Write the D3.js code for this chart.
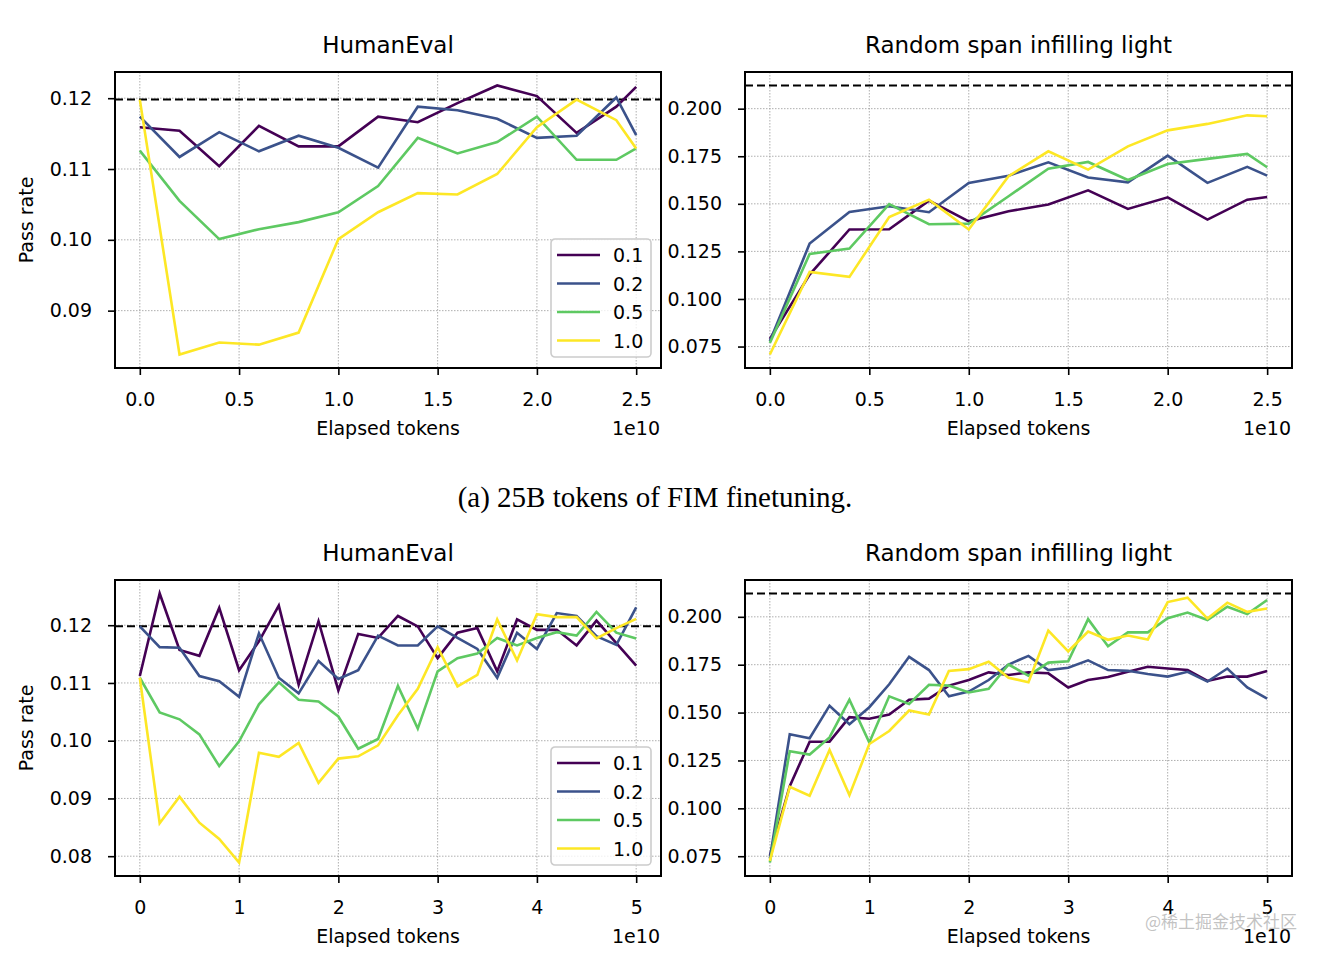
<!DOCTYPE html>
<html>
<head>
<meta charset="utf-8">
<script src="https://cdn.jsdelivr.net/npm/d3@7"></script>
<style>
  body { margin: 0; background: #fff; }
  svg { display: block; }
  text { font-family: "DejaVu Sans", sans-serif; fill: #000; }
</style>
</head>
<body>
<div id="chart"></div>
<script>
// elapsed tokens (units of 1e10)
var tokensA = [0, 0.2, 0.4, 0.6, 0.8, 1.0, 1.2, 1.4, 1.6, 1.8, 2.0, 2.2, 2.4, 2.5];
var tokensB = [0, 0.2, 0.4, 0.6, 0.8, 1.0, 1.2, 1.4, 1.6, 1.8, 2.0, 2.2, 2.4, 2.6, 2.8,
               3.0, 3.2, 3.4, 3.6, 3.8, 4.0, 4.2, 4.4, 4.6, 4.8, 5.0];

var rates = ["0.1", "0.2", "0.5", "1.0"];
var colors = ["#440154", "#3b528b", "#5ec962", "#fde725"];

// (a) 25B tokens - HumanEval
var heA_01 = [0.1159, 0.1154, 0.1104, 0.1161, 0.1132, 0.1132, 0.1174, 0.1166, 0.1193, 0.1218, 0.1203, 0.1151, 0.1188, 0.1216];
var heA_02 = [0.1174, 0.1117, 0.1152, 0.1125, 0.1147, 0.1130, 0.1102, 0.1188, 0.1183, 0.1171, 0.1144, 0.1147, 0.1201, 0.1148];
var heA_05 = [0.1126, 0.1055, 0.1001, 0.1015, 0.1025, 0.1039, 0.1076, 0.1144, 0.1122, 0.1138, 0.1174, 0.1113, 0.1113, 0.1129];
var heA_10 = [0.1198, 0.0838, 0.0855, 0.0852, 0.0869, 0.1001, 0.1039, 0.1066, 0.1064, 0.1093, 0.1159, 0.1198, 0.1169, 0.1129];

// (a) 25B tokens - random span infilling light
var rsA_01 = [0.0790, 0.1128, 0.1365, 0.1366, 0.1517, 0.1408, 0.1461, 0.1496, 0.1571, 0.1473, 0.1534, 0.1417, 0.1522, 0.1536];
var rsA_02 = [0.0778, 0.1291, 0.1457, 0.1487, 0.1456, 0.1610, 0.1648, 0.1718, 0.1638, 0.1613, 0.1753, 0.1610, 0.1694, 0.1648];
var rsA_05 = [0.0769, 0.1237, 0.1265, 0.1498, 0.1393, 0.1396, 0.1540, 0.1685, 0.1720, 0.1625, 0.1709, 0.1736, 0.1762, 0.1692];
var rsA_10 = [0.0708, 0.1142, 0.1116, 0.1431, 0.1522, 0.1365, 0.1645, 0.1776, 0.1680, 0.1802, 0.1886, 0.1920, 0.1965, 0.1960];

// 50B tokens - HumanEval
var heB_01 = [0.1112, 0.1255, 0.1157, 0.1147, 0.1230, 0.1122, 0.1172, 0.1234, 0.1097, 0.1207, 0.1087, 0.1185, 0.1178,
              0.1216, 0.1198, 0.1143, 0.1187, 0.1195, 0.1120, 0.1210, 0.1192, 0.1192, 0.1165, 0.1208, 0.1169, 0.1130];
var heB_02 = [0.1198, 0.1162, 0.1161, 0.1112, 0.1103, 0.1076, 0.1186, 0.1109, 0.1082, 0.1138, 0.1107, 0.1122, 0.1182,
              0.1165, 0.1165, 0.1198, 0.1178, 0.1159, 0.1109, 0.1187, 0.1159, 0.1221, 0.1216, 0.1181, 0.1166, 0.1231];
var heB_05 = [0.1109, 0.1049, 0.1037, 0.1011, 0.0956, 0.0999, 0.1063, 0.1101, 0.1071, 0.1068, 0.1042, 0.0986, 0.1003,
              0.1095, 0.1021, 0.1120, 0.1143, 0.1151, 0.1178, 0.1165, 0.1178, 0.1188, 0.1182, 0.1223, 0.1187, 0.1177];
var heB_10 = [0.1109, 0.0857, 0.0903, 0.0858, 0.0830, 0.0789, 0.0979, 0.0972, 0.0996, 0.0927, 0.0969, 0.0973, 0.0992,
              0.1044, 0.1090, 0.1162, 0.1094, 0.1114, 0.1210, 0.1139, 0.1219, 0.1214, 0.1214, 0.1177, 0.1195, 0.1211];

// 50B tokens - random span infilling light
var rsB_01 = [0.0752, 0.1116, 0.1348, 0.1348, 0.1476, 0.1468, 0.1490, 0.1567, 0.1573, 0.1641, 0.1670, 0.1710, 0.1696,
              0.1710, 0.1705, 0.1631, 0.1670, 0.1686, 0.1713, 0.1739, 0.1730, 0.1722, 0.1665, 0.1688, 0.1688, 0.1717];
var rsB_02 = [0.0738, 0.1387, 0.1366, 0.1536, 0.1439, 0.1528, 0.1648, 0.1791, 0.1722, 0.1585, 0.1610, 0.1670, 0.1751,
              0.1796, 0.1722, 0.1734, 0.1773, 0.1722, 0.1718, 0.1701, 0.1688, 0.1713, 0.1662, 0.1730, 0.1631, 0.1573];
var rsB_05 = [0.0717, 0.1298, 0.1281, 0.1370, 0.1567, 0.1344, 0.1585, 0.1545, 0.1645, 0.1641, 0.1605, 0.1624, 0.1751,
              0.1693, 0.1761, 0.1768, 0.1988, 0.1846, 0.1919, 0.1919, 0.1993, 0.2022, 0.1983, 0.2053, 0.2014, 0.2088];
var rsB_10 = [0.0726, 0.1112, 0.1066, 0.1305, 0.1069, 0.1336, 0.1404, 0.1511, 0.1490, 0.1717, 0.1727, 0.1765, 0.1682,
              0.1658, 0.1928, 0.1820, 0.1923, 0.1880, 0.1902, 0.1882, 0.2077, 0.2100, 0.1991, 0.2074, 0.2026, 0.2043];

// baseline (dashed line)
var baseHumanEval = 0.1198;
var baseRandomSpan = 0.2122;

var ticksXA = [0, 0.5, 1.0, 1.5, 2.0, 2.5];
var ticksXB = [0, 1, 2, 3, 4, 5];
var ticksHEA = [0.09, 0.10, 0.11, 0.12];
var ticksHEB = [0.08, 0.09, 0.10, 0.11, 0.12];
var ticksRS = [0.075, 0.100, 0.125, 0.150, 0.175, 0.200];

var W = 1330, H = 958;
var svg = d3.select("#chart").append("svg")
	.attr("width", W)
	.attr("height", H);
svg.append("rect").attr("width", W).attr("height", H).attr("fill", "#fff");

function drawPanel(p) {
	var g = svg.append("g").attr("transform", "translate(" + p.left + "," + p.top + ")");
	var w = p.width, h = p.height;

	var xs = p.xs;
	var xr = xs[xs.length - 1] - xs[0];
	var x = d3.scaleLinear()
		.domain([xs[0] - xr * 0.05, xs[xs.length - 1] + xr * 0.05])
		.range([0, w]);

	// y limits like matplotlib autoscale: data + hline with 5% margin
	var all = [p.hline];
	p.series.forEach(function(s) { all = all.concat(s); });
	var lo = d3.min(all), hi = d3.max(all), yr = hi - lo;
	var y = d3.scaleLinear()
		.domain([lo - yr * 0.05, hi + yr * 0.05])
		.range([h, 0]);

	// grid
	g.selectAll(".gx").data(p.xTicks).enter().append("line")
		.attr("x1", function(d) { return x(d); })
		.attr("x2", function(d) { return x(d); })
		.attr("y1", 0).attr("y2", h)
		.style("stroke", "#9a9a9a").style("stroke-width", 0.8)
		.style("stroke-dasharray", "1.5,1.5");
	g.selectAll(".gy").data(p.yTicks).enter().append("line")
		.attr("y1", function(d) { return y(d); })
		.attr("y2", function(d) { return y(d); })
		.attr("x1", 0).attr("x2", w)
		.style("stroke", "#9a9a9a").style("stroke-width", 0.8)
		.style("stroke-dasharray", "1.5,1.5");

	// baseline
	g.append("line")
		.attr("x1", 0).attr("x2", w)
		.attr("y1", y(p.hline)).attr("y2", y(p.hline))
		.style("stroke", "#000").style("stroke-width", 2)
		.style("stroke-dasharray", "8,4");

	// series lines
	var line = d3.line()
		.x(function(d, i) { return x(xs[i]); })
		.y(function(d) { return y(d); });
	p.series.forEach(function(s, i) {
		g.append("path")
			.datum(s)
			.attr("d", line)
			.style("fill", "none")
			.style("stroke", colors[i])
			.style("stroke-width", 2.6)
			.style("stroke-linejoin", "miter");
	});

	// axes
	var xAxis = d3.axisBottom(x).tickValues(p.xTicks).tickFormat(d3.format(p.xFmt))
		.tickSizeInner(7).tickSizeOuter(0).tickPadding(16);
	var yAxis = d3.axisLeft(y).tickValues(p.yTicks).tickFormat(d3.format(p.yFmt))
		.tickSizeInner(7).tickSizeOuter(0).tickPadding(16);
	var gx = g.append("g").attr("transform", "translate(0," + h + ")").call(xAxis);
	var gy = g.append("g").call(yAxis);
	[gx, gy].forEach(function(a) {
		a.select(".domain").remove();
		a.selectAll(".tick line").style("stroke", "#000").style("stroke-width", 1.6);
		a.selectAll(".tick text")
			.style("font-family", "DejaVu Sans")
			.style("font-size", "19px")
			.style("fill", "#000");
	});
	gx.selectAll(".tick text").attr("dy", "0.78em");

	// frame
	g.append("rect")
		.attr("width", w).attr("height", h)
		.style("fill", "none").style("stroke", "#000").style("stroke-width", 2);

	// title & labels
	g.append("text")
		.attr("x", w / 2).attr("y", -19)
		.attr("text-anchor", "middle")
		.style("font-size", "23px")
		.text(p.title);
	g.append("text")
		.attr("x", w / 2).attr("y", h + 67)
		.attr("text-anchor", "middle")
		.style("font-size", "19px")
		.text("Elapsed tokens");
	g.append("text")
		.attr("x", w - 1).attr("y", h + 67)
		.attr("text-anchor", "end")
		.style("font-size", "19px")
		.text("1e10");
	if (p.ylabel) {
		g.append("text")
			.attr("transform", "translate(" + (-82) + "," + (h / 2) + ") rotate(-90)")
			.attr("text-anchor", "middle")
			.style("font-size", "19px")
			.text(p.ylabel);
	}

	// legend
	if (p.legend) {
		var lw = 100, lh = 118;
		var lg = g.append("g").attr("transform", "translate(" + (w - 10 - lw) + "," + (h - 11 - lh) + ")");
		lg.append("rect")
			.attr("width", lw).attr("height", lh)
			.attr("rx", 4).attr("ry", 4)
			.style("fill", "#fff").style("fill-opacity", 0.8)
			.style("stroke", "#cccccc").style("stroke-width", 1.6);
		rates.forEach(function(r, i) {
			var yy = 16 + i * 28.5;
			lg.append("line")
				.attr("x1", 6).attr("x2", 49)
				.attr("y1", yy).attr("y2", yy)
				.style("stroke", colors[i]).style("stroke-width", 2.6);
			lg.append("text")
				.attr("x", 62).attr("y", yy + 7)
				.style("font-size", "19px")
				.text(r);
		});
	}
}

drawPanel({ left: 115, top: 72, width: 546, height: 296, xs: tokensA,
	series: [heA_01, heA_02, heA_05, heA_10], hline: baseHumanEval,
	xTicks: ticksXA, yTicks: ticksHEA, xFmt: ".1f", yFmt: ".2f",
	title: "HumanEval", ylabel: "Pass rate", legend: true });
drawPanel({ left: 745, top: 72, width: 547, height: 296, xs: tokensA,
	series: [rsA_01, rsA_02, rsA_05, rsA_10], hline: baseRandomSpan,
	xTicks: ticksXA, yTicks: ticksRS, xFmt: ".1f", yFmt: ".3f",
	title: "Random span infilling light" });
drawPanel({ left: 115, top: 580, width: 546, height: 296, xs: tokensB,
	series: [heB_01, heB_02, heB_05, heB_10], hline: baseHumanEval,
	xTicks: ticksXB, yTicks: ticksHEB, xFmt: "d", yFmt: ".2f",
	title: "HumanEval", ylabel: "Pass rate", legend: true });
drawPanel({ left: 745, top: 580, width: 547, height: 296, xs: tokensB,
	series: [rsB_01, rsB_02, rsB_05, rsB_10], hline: baseRandomSpan,
	xTicks: ticksXB, yTicks: ticksRS, xFmt: "d", yFmt: ".3f",
	title: "Random span infilling light" });

// caption of subfigure (a)
svg.append("text")
	.attr("x", 655).attr("y", 507)
	.attr("text-anchor", "middle")
	.style("font-family", "Liberation Serif, serif")
	.style("font-size", "29px")
	.text("(a) 25B tokens of FIM finetuning.");

// watermark (sits over the last tick labels, as in the source image)
svg.append("text")
	.attr("x", 1145).attr("y", 928)
	.style("font-family", "Noto Sans CJK SC, sans-serif")
	.style("font-size", "17px")
	.style("fill", "#b8b8b8")
	.style("fill-opacity", 0.85)
	.text("@稀土掘金技术社区");
</script>
</body>
</html>
